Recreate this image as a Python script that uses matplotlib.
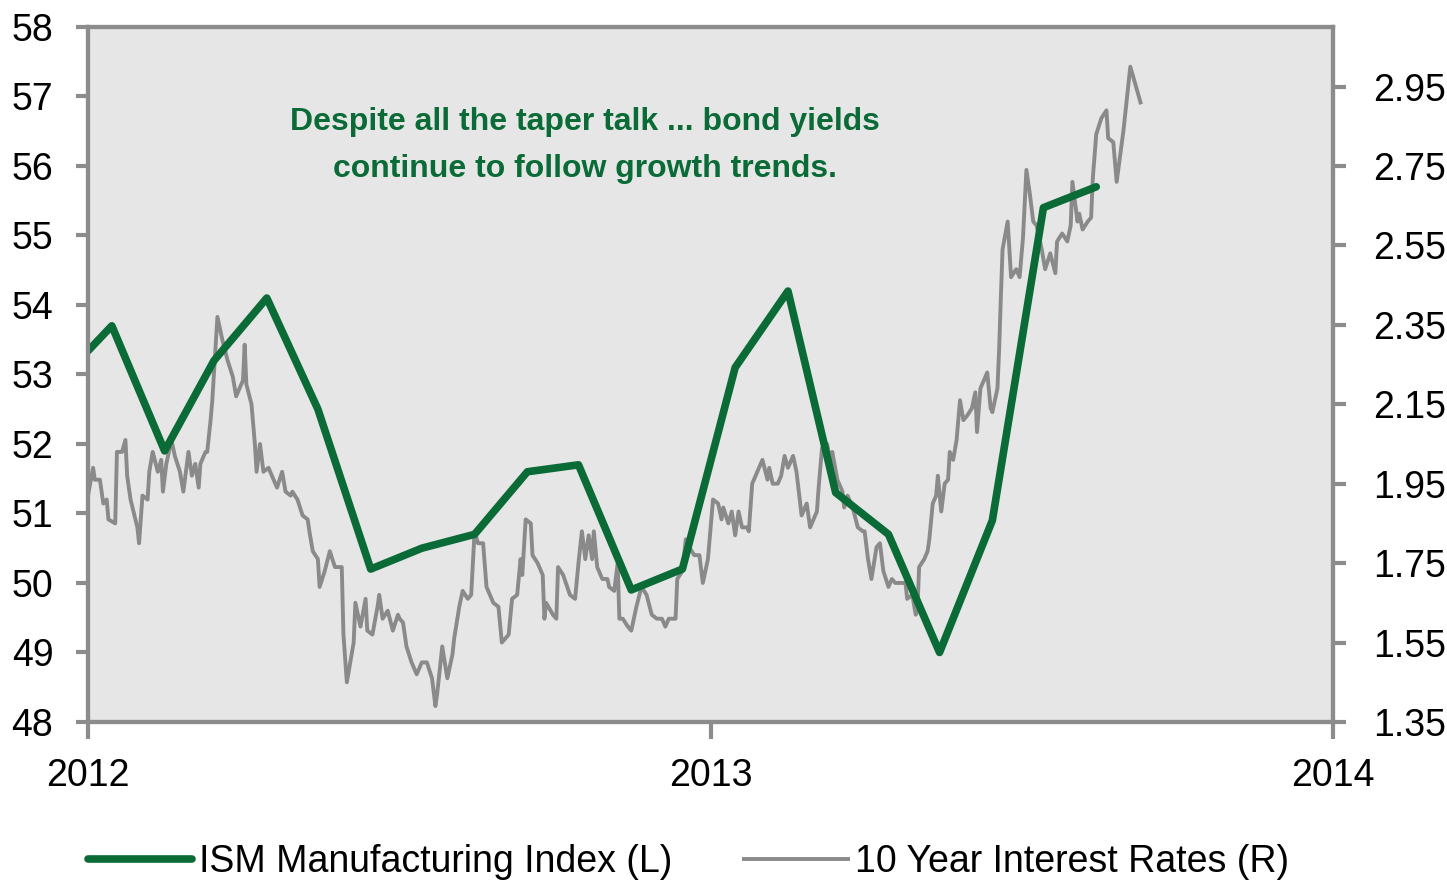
import pandas as pd
import matplotlib
matplotlib.use("Agg")
import matplotlib.pyplot as plt
import matplotlib.dates as mdates

plt.rcParams['font.family'] = ['Liberation Sans Narrow', 'Liberation Sans', 'DejaVu Sans']

# ISM Manufacturing Index, monthly (dated mid-month)
ism_months = pd.date_range("2011-12-01", "2013-08-01", freq="MS") + pd.Timedelta(days=14)
ism_values = [52.9, 53.7, 51.9, 53.2, 54.1, 52.5, 50.2, 50.5, 50.7, 51.6, 51.7,
              49.9, 50.2, 53.1, 54.2, 51.3, 50.7, 49.0, 50.9, 55.4, 55.7]

# 10 year Treasury yield, days counted from 2012-01-01
yield_days = [
    0, 3, 4, 7, 9, 11, 12, 16, 17, 20, 22, 23, 25, 29, 30, 32, 35, 36, 38, 41,
    43, 44, 46, 49, 51, 54, 56, 59, 61, 63, 65, 66, 69, 70, 72, 73, 76, 79, 82, 85,
    87, 89, 91, 92, 93, 96, 98, 99, 101, 103, 106, 108, 111, 114, 116, 119, 120, 123, 126, 129,
    130, 132, 135, 136, 139, 142, 145, 149, 150, 152, 156, 157, 160, 163, 164, 167, 170, 171, 173, 176,
    179, 182, 183, 185, 187, 190, 193, 196, 199, 202, 204, 205, 208, 211, 214, 215, 218, 220, 223, 225,
    227, 229, 232, 234, 238, 241, 243, 247, 249, 252, 254, 255, 257, 260, 261, 264, 267, 268, 269, 273,
    275, 276, 279, 283, 286, 288, 290, 292, 294, 296, 297, 299, 302, 305, 306, 309, 311, 312, 314, 317,
    319, 322, 325, 328, 331, 334, 337, 339, 341, 345, 346, 349, 351, 353, 356, 359, 361, 364, 367, 370,
    372, 373, 376, 378, 380, 382, 384, 387, 388, 390, 393, 396, 399, 400, 402, 405, 407, 409, 411, 414,
    416, 419, 422, 424, 428, 429, 431, 434, 436, 437, 440, 443, 444, 446, 449, 452, 455, 456, 458, 460,
    463, 465, 467, 470, 472, 474, 477, 480, 481, 484, 486, 487, 488, 491, 493, 494, 496, 498, 499, 501,
    503, 505, 506, 508, 510, 512, 514, 516, 519, 521, 522, 524, 527, 528, 530, 531, 534, 535, 536, 537,
    540, 542, 545, 547, 549, 551, 553, 555, 557, 560, 562, 565, 568, 569, 572, 575, 577, 578, 581, 582,
    584, 587, 589, 590, 592, 595, 598, 599, 602, 604, 608, 612, 614, 616, 618,
]
yield_values = [
    1.92, 1.99, 1.96, 1.96, 1.90, 1.91, 1.86, 1.85, 2.03, 2.03, 2.06, 1.97, 1.91, 1.84, 1.80, 1.92, 1.91, 1.98, 2.03, 1.98,
    2.01, 1.93, 2.00, 2.06, 2.02, 1.98, 1.93, 2.03, 1.97, 2.00, 1.94, 2.00, 2.03, 2.03, 2.11, 2.16, 2.37, 2.31, 2.26, 2.22,
    2.17, 2.19, 2.21, 2.30, 2.20, 2.15, 2.05, 1.98, 2.05, 1.98, 1.99, 1.97, 1.94, 1.98, 1.93, 1.92, 1.93, 1.91, 1.87, 1.86,
    1.83, 1.78, 1.76, 1.69, 1.73, 1.78, 1.74, 1.74, 1.57, 1.45, 1.55, 1.65, 1.59, 1.66, 1.58, 1.57, 1.64, 1.67, 1.61, 1.63,
    1.58, 1.62, 1.61, 1.60, 1.54, 1.50, 1.47, 1.50, 1.50, 1.46, 1.39, 1.42, 1.54, 1.46, 1.52, 1.56, 1.64, 1.68, 1.66, 1.67,
    1.83, 1.80, 1.80, 1.69, 1.65, 1.64, 1.55, 1.57, 1.66, 1.67, 1.76, 1.72, 1.86, 1.85, 1.77, 1.75, 1.72, 1.61, 1.65, 1.62,
    1.61, 1.74, 1.72, 1.67, 1.66, 1.75, 1.83, 1.76, 1.82, 1.76, 1.83, 1.74, 1.71, 1.71, 1.69, 1.68, 1.75, 1.61, 1.61, 1.59,
    1.58, 1.64, 1.69, 1.67, 1.62, 1.61, 1.61, 1.59, 1.61, 1.61, 1.71, 1.73, 1.81, 1.79, 1.77, 1.77, 1.70, 1.76, 1.91, 1.90,
    1.86, 1.89, 1.85, 1.88, 1.82, 1.88, 1.84, 1.84, 1.83, 1.95, 1.98, 2.01, 1.96, 1.99, 1.95, 1.95, 1.97, 2.02, 1.99, 2.02,
    1.98, 1.87, 1.90, 1.84, 1.88, 1.94, 2.04, 2.05, 2.00, 2.03, 1.96, 1.93, 1.89, 1.92, 1.89, 1.84, 1.83, 1.83, 1.76, 1.71,
    1.79, 1.80, 1.73, 1.69, 1.71, 1.70, 1.70, 1.70, 1.66, 1.67, 1.62, 1.63, 1.74, 1.76, 1.78, 1.81, 1.90, 1.92, 1.97, 1.88,
    1.95, 1.96, 2.03, 2.01, 2.06, 2.16, 2.11, 2.12, 2.14, 2.18, 2.08, 2.19, 2.22, 2.23, 2.14, 2.13, 2.19, 2.29, 2.42, 2.54,
    2.61, 2.47, 2.49, 2.47, 2.57, 2.74, 2.68, 2.61, 2.60, 2.54, 2.49, 2.53, 2.48, 2.56, 2.58, 2.56, 2.60, 2.71, 2.61, 2.63,
    2.59, 2.61, 2.62, 2.72, 2.83, 2.87, 2.89, 2.82, 2.81, 2.71, 2.84, 3.00, 2.97, 2.94, 2.91,
]
yield_dates = pd.Timestamp("2012-01-01") + pd.to_timedelta(yield_days, unit="D")

left_ticks = list(range(48, 59))
right_ticks = [1.35, 1.55, 1.75, 1.95, 2.15, 2.35, 2.55, 2.75, 2.95]
year_ticks = ["2012", "2013", "2014"]

GREEN = "#0a6b37"
GRAY = "#8a8a8a"
SPINE = "#8c8c8c"

fig = plt.figure(figsize=(14.47, 8.84), dpi=100)
ax = fig.add_axes([0.0608, 0.1833, 0.8604, 0.7862])
ax2 = ax.twinx()

l2, = ax2.plot(yield_dates, yield_values, color=GRAY, lw=2.8, zorder=2,
               label="10 Year Interest Rates (R)")
# ISM axis drawn above the yield axis; the lower axis carries the grey background
ax.set_zorder(ax2.get_zorder() + 1)
ax.patch.set_visible(False)
ax2.patch.set_visible(True)
ax2.patch.set_facecolor("#e6e6e6")
l1, = ax.plot(ism_months, ism_values, color=GREEN, lw=5.5, solid_capstyle="round",
              label="ISM Manufacturing Index (L)")

ax.set_xlim(pd.Timestamp("2012-01-01"), pd.Timestamp("2014-01-01"))
ax.set_ylim(48, 58)
ax2.set_ylim(1.35, 1.35 + 10 * 0.175)
ax.set_yticks(left_ticks)
ax2.set_yticks(right_ticks)
ax2.set_yticklabels([f"{t:.2f}" for t in right_ticks])
ax.set_xticks(pd.to_datetime([f"{y}-01-01" for y in year_ticks]))
ax.xaxis.set_major_formatter(mdates.DateFormatter("%Y"))

for a in (ax, ax2):
    for s in a.spines.values():
        s.set_color(SPINE)
        s.set_linewidth(3)
    a.tick_params(colors=SPINE, labelcolor="black", width=3, length=9, labelsize=27)
ax.tick_params(axis="y", pad=16)
ax.tick_params(axis="x", pad=14, length=12)
ax2.tick_params(axis="y", pad=20)

ax.text(0.399, 0.829, "Despite all the taper talk ... bond yields\ncontinue to follow growth trends.",
        transform=ax.transAxes, ha="center", va="center", color=GREEN,
        fontsize=23, fontweight="bold", linespacing=1.75)

fig.legend(handles=[l1, l2], loc="center left", bbox_to_anchor=(0.0608, 0.025), ncol=2,
           frameon=False, fontsize=27, handlelength=2.77, handletextpad=0.2,
           columnspacing=1.9, borderpad=0, borderaxespad=0)

fig.savefig("out.png", dpi=100, facecolor="white")
